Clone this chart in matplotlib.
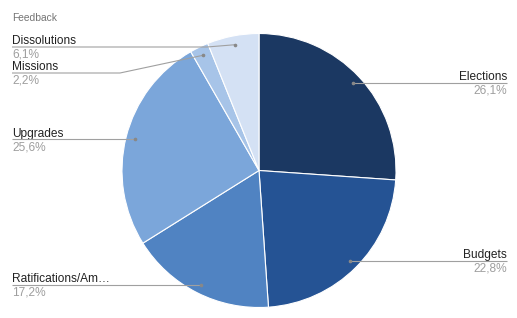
import numpy as np
import matplotlib
matplotlib.use("Agg")
import matplotlib.pyplot as plt

title = "Feedback"
categories = ["Elections", "Budgets", "Ratifications/Am…", "Upgrades", "Missions", "Dissolutions"]
values = [26.1, 22.8, 17.2, 25.6, 2.2, 6.1]
pct_labels = ["26,1%", "22,8%", "17,2%", "25,6%", "2,2%", "6,1%"]
colors = ["#1b3862", "#255394", "#5083c2", "#7ba6da", "#a7c4e8", "#d4e1f4"]

W, H = 517, 318
fig = plt.figure(figsize=(W / 100, H / 100), dpi=100)
ax = fig.add_axes([0, 0, 1, 1])
ax.set_xlim(0, W)
ax.set_ylim(0, H)
ax.set_aspect("equal")
ax.axis("off")

cx, cy, R = 259, H - 170.5, 137
ax.pie(values, colors=colors, startangle=90, counterclock=False,
       center=(cx, cy), radius=R, frame=True,
       wedgeprops=dict(edgecolor="white", linewidth=0.8))
ax.set_xlim(0, W)
ax.set_ylim(0, H)
ax.axis("off")

font = "Liberation Sans"
fig.text(12 / W, 1 - 18 / H, title, fontsize=7.4, color="#757575",
         family=font, va="center", ha="left")

# leader layout: (side, override line y in px from top or None, elbow x)
layout = {
    "Missions": (73, 120),
    "Dissolutions": (47, 207),
}
line_col = "#a0a0a0"
total = sum(values)
start = 0.0
for cat, v, pl in zip(categories, values, pct_labels):
    mid = (start + v / 2) / total * 2 * np.pi
    start += v
    ax_ = cx + 0.935 * R * np.sin(mid)
    ay_ = cy + 0.935 * R * np.cos(mid)
    right = np.sin(mid) > 0
    if cat in layout:
        ly_px, ex = layout[cat]
        ly = H - ly_px
    else:
        ly = ay_
        ex = None
    if right:
        xs = [ax_, 507]
        ys = [ay_, ly]
        tx, ha = 507, "right"
    else:
        if ex is None:
            xs = [12, ax_]
            ys = [ly, ly]
        else:
            xs = [12, ex, ax_]
            ys = [ly, ly, ay_]
        tx, ha = 12, "left"
    ax.plot(xs, ys, color=line_col, lw=0.8, solid_capstyle="butt", zorder=5)
    ax.plot([ax_], [ay_], "o", ms=1.6, color="#888888", zorder=6)
    ax.text(tx, ly + 2.7, cat, ha=ha, va="baseline", fontsize=8.6,
            color="#222222", family=font)
    ax.text(tx, ly - 10.7, pl, ha=ha, va="baseline", fontsize=8.6,
            color="#9e9e9e", family=font)

fig.savefig("out.png", dpi=100)
